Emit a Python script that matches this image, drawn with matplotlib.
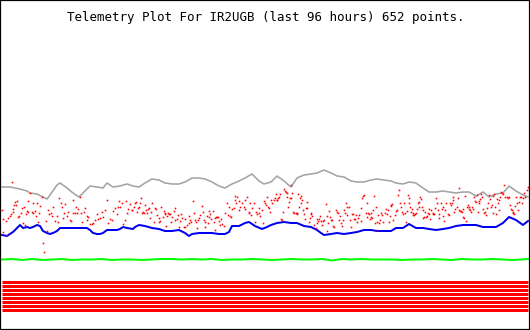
import matplotlib
matplotlib.use("Agg")
import matplotlib.pyplot as plt

TITLE = "Telemetry Plot For IR2UGB (last 96 hours) 652 points."

# time position (x) and value (y) for each series
gray_x = [2, 10, 20, 27, 30, 37, 43, 47, 50, 57, 60, 67, 73, 79, 83, 90, 97, 103, 107, 113,
          120, 127, 133, 139, 145, 152, 159, 165, 172, 179, 185, 192, 199, 205, 212, 219, 225,
          232, 239, 245, 252, 259, 264, 271, 277, 284, 291, 297, 304, 311, 317, 324, 331, 337,
          344, 351, 357, 364, 371, 377, 384, 391, 396, 403, 409, 416, 423, 429, 436, 443, 449,
          456, 463, 469, 476, 483, 489, 496, 503, 509, 516, 523, 528]
gray_y = [143, 143, 141, 139, 137, 136, 133, 131, 135, 145, 147, 142, 137, 133, 137, 144, 143,
          142, 147, 143, 144, 146, 144, 143, 147, 151, 150, 147, 146, 146, 148, 152, 152, 151,
          148, 144, 142, 146, 149, 152, 156, 149, 146, 148, 154, 149, 143, 152, 155, 156, 157,
          160, 157, 154, 153, 149, 148, 148, 150, 151, 150, 149, 147, 146, 148, 147, 142, 138,
          138, 139, 138, 137, 138, 138, 134, 138, 133, 136, 137, 144, 139, 135, 133]

blue_x = [2, 7, 10, 13, 17, 20, 23, 27, 30, 33, 37, 40, 43, 47, 50, 53, 57, 60, 67, 73, 80,
          87, 90, 93, 97, 100, 103, 107, 117, 120, 123, 127, 133, 135, 139, 145, 152, 159, 165,
          172, 179, 185, 189, 192, 199, 205, 212, 219, 225, 229, 232, 239, 245, 249, 255, 262,
          267, 271, 277, 284, 291, 297, 304, 311, 317, 321, 324, 331, 337, 344, 351, 357, 364,
          371, 377, 384, 391, 396, 403, 409, 416, 423, 429, 436, 443, 449, 456, 463, 469, 476,
          483, 489, 496, 503, 509, 516, 523, 528]
blue_y = [95, 94, 96, 98, 102, 105, 102, 103, 102, 103, 105, 104, 99, 97, 96, 97, 99, 102, 102,
          102, 102, 102, 100, 97, 96, 96, 97, 100, 100, 101, 103, 102, 101, 103, 105, 104, 102,
          101, 99, 99, 100, 97, 94, 96, 97, 97, 97, 96, 96, 98, 104, 104, 107, 108, 104, 101,
          103, 105, 107, 108, 107, 107, 104, 103, 100, 97, 95, 96, 97, 96, 97, 98, 100, 100, 99,
          99, 99, 102, 102, 106, 102, 102, 101, 100, 101, 102, 104, 105, 105, 105, 103, 103,
          103, 107, 113, 110, 105, 109]

green_x = [2, 12, 22, 32, 42, 52, 62, 72, 82, 92, 102, 112, 122, 132, 142, 152, 162, 172, 182,
           192, 202, 212, 222, 232, 242, 252, 262, 272, 282, 292, 302, 312, 322, 332, 342, 352,
           362, 372, 382, 392, 402, 412, 422, 432, 442, 452, 462, 472, 482, 492, 502, 512, 522,
           528]
green_y = [70.5, 71, 70, 71, 70, 70.5, 71, 70, 70.5, 70.5, 71, 70, 70.5, 70.5, 70, 70.5, 71,
           71, 70.5, 71, 70.5, 71, 70, 70.5, 70.5, 71, 70.5, 70, 70.5, 71, 70.5, 70.5, 71, 69.5,
           71, 70.5, 71, 70.5, 70.5, 70.5, 70, 70.5, 70.5, 71, 70.5, 70, 71, 70.5, 70.5, 71, 70.5,
           70, 70.5, 71]

# scattered red readings as (x, y) pairs
red_pts = [
    (1.7, 120), (2.7, 110.7), (3.3, 98.3), (6, 109.3), (7.3, 95), (8.3, 111.7), (10, 114.3),
    (11, 116), (11.7, 148.3), (12.7, 118.3), (13.3, 120.7), (14, 125), (15, 128.3), (16, 125),
    (16.7, 129.3), (18.3, 112.7), (19.3, 114), (20.7, 116.7), (21.7, 121.7), (22.7, 107.3),
    (24, 123.3), (25, 105), (26, 116), (26.7, 119.3), (27.7, 118.3), (28.3, 129.3), (30, 136.7),
    (31.7, 118.3), (32.7, 116.7), (33.3, 126.7), (35, 119.3), (36, 114), (36.7, 127.3),
    (38.3, 108.3), (39.3, 116.7), (40, 124), (41.7, 133.3), (43.3, 86.7), (44.3, 78.3),
    (46, 109.3), (46.7, 99.3), (48.3, 120), (49.3, 116), (50.7, 117.3), (51.7, 114),
    (53.3, 122.7), (55, 109.3), (56.7, 114), (58.3, 108.3), (59.3, 131.7), (60.7, 126.7),
    (61.7, 123.3), (62.7, 111.7), (64, 116.7), (65, 126), (66.7, 114), (68.3, 118.3), (70, 110),
    (71, 109.3), (72.7, 130), (73.3, 117.3), (75, 116.7), (76, 122.7), (76.7, 116.7),
    (78.3, 120.7), (80, 132.7), (81, 117.3), (81.7, 108.3), (84, 118.3), (85, 121.7),
    (86.7, 114), (87.3, 110), (88.3, 112.7), (90, 106), (91.7, 106), (93.3, 107.3), (95, 110),
    (96.7, 116), (98.3, 110.7), (100, 111.7), (101.7, 118.3), (103.3, 113.3), (105, 120),
    (106.7, 130), (108.3, 106.7), (110, 110.7), (111.7, 110), (113.3, 119.3), (115, 121.7),
    (116.7, 116), (118.3, 123.3), (119.3, 129.3), (120, 122.7), (121.7, 126.7), (123.3, 106),
    (125, 110), (126, 129.3), (127.3, 117.3), (128.3, 120.7), (130, 126), (131.7, 120),
    (132, 120), (133.7, 123.3), (135.3, 127.3), (136, 128.3), (137, 118.3), (138, 121.7),
    (139.3, 123.3), (140.3, 126.7), (141.3, 131.7), (142, 116.7), (142.7, 118.3),
    (143.7, 116.7), (144.7, 125), (146, 120), (147, 116.7), (148, 120.7), (148.7, 121.7),
    (150.3, 111.7), (151.3, 118.3), (152, 127.3), (153.7, 108.3), (154.7, 121.7),
    (156, 120.7), (157, 115), (158.7, 108.3), (159.3, 111.7), (160.3, 109.3), (161.3, 122.7),
    (162.7, 112.7), (163.7, 119.3), (164.7, 116), (165.3, 116.7), (166, 104), (167, 114),
    (168, 117.3), (169.3, 116), (170.3, 116), (171.3, 108.3), (172, 112.7), (173.7, 119.3),
    (174.7, 121.7), (175.3, 110), (177, 110.7), (178, 115), (179.3, 103.3), (180.3, 109.3),
    (181.3, 116), (182, 111.7), (183.7, 103.3), (184.7, 103.3), (185.3, 110.7), (187, 105),
    (188.7, 114), (189.3, 106.7), (190.3, 110), (191.3, 108.3), (192.7, 129.3), (193.7, 117.3),
    (194.7, 110), (196, 108.3), (197, 101.7), (198, 110), (198.7, 111.7), (200.3, 115),
    (202, 124), (202.7, 118.3), (203.7, 110), (204.7, 103.3), (205.3, 108.3), (207, 114),
    (208, 106.7), (208.7, 112.7), (209.3, 119.3), (210.3, 116), (211.3, 110.7), (212.7, 119.3),
    (213.7, 108.3), (214.7, 100), (215.3, 111.7), (216, 112.7), (217, 113.3), (218, 112.7),
    (218.7, 109.3), (220.3, 105), (221.3, 110.7), (222, 106), (223.7, 104), (225.3, 116.7),
    (227, 126.7), (228, 115), (229.3, 123.3), (230.3, 114), (231.3, 112.7), (232, 120.7),
    (233.7, 121.7), (234.7, 134), (235.3, 130), (236, 126.7), (237, 133.3), (238.7, 129.3),
    (239.3, 120), (240.3, 123.3), (242, 127.3), (243.7, 123.3), (244.7, 120.7), (245.3, 130),
    (247, 132.7), (248.7, 118.3), (249.3, 116.7), (250.3, 126.7), (251.3, 115), (252, 121.7),
    (253.7, 127.3), (255.3, 108.3), (256, 118.3), (257, 116), (258.7, 121.7), (259.3, 117.3),
    (260.3, 114), (262, 120), (262.7, 106.7), (263.7, 129.3),
    (264.7, 127.3), (265.7, 125), (266.7, 132.7), (268, 123.3), (269, 121.7), (270, 118.3),
    (271.3, 130), (272.3, 127.3), (274, 130), (274.7, 131.7), (275.7, 136), (276.7, 130),
    (277.3, 130), (278, 131.7), (279, 132.7), (280, 136), (281.3, 110.7), (282.3, 110),
    (283.3, 118.3), (284, 140.7), (284.7, 139.3), (285.7, 138.3), (286.7, 137.3),
    (287.3, 132.7), (288, 123.3), (289, 128.3), (290, 131.7), (290.7, 145), (291.3, 131.7),
    (292.3, 137.3), (293.3, 118.3), (294, 116.7), (295.7, 117.3), (296.7, 116), (297.3, 116.7),
    (298, 135.7), (299, 123.3), (300, 131.7), (300.7, 134), (301.3, 126.7), (302.3, 130),
    (303.3, 120), (304, 116), (304.7, 110.7), (305.7, 121.7), (306.7, 121.7), (307.3, 128.3),
    (309, 108.3), (310, 111.7), (310.7, 116), (311.3, 117.3), (312.3, 114), (314, 105),
    (315.7, 101.7), (316.7, 110.7), (317.3, 106.7), (318, 109.3), (319, 110.7), (320, 114),
    (320.7, 109.3), (322.3, 105), (323.3, 109.3), (324, 110), (325.7, 126), (326.7, 114),
    (327.3, 99.3), (328, 107.3), (329, 119.3), (330, 112.7), (330.7, 110), (332.3, 110),
    (333.3, 104), (334, 102.7), (335.7, 120), (336.7, 118.3), (338, 116.7), (339, 110),
    (340, 114), (341.3, 106.7), (342.3, 104), (343.3, 110), (344, 120), (344.7, 117.3),
    (345.7, 126.7), (346.7, 123.3), (347.3, 115), (349, 123.3), (350, 110), (351.3, 102.7),
    (352.3, 116), (353.3, 116), (354, 110.7), (354.7, 110.7), (355.7, 115), (356.7, 108.3),
    (358, 111.7), (359, 115), (360.7, 109.3), (361.3, 121.7), (362.3, 131.7), (363.3, 134),
    (364, 135), (365.7, 116.7), (366.7, 112.7), (367.3, 126.7), (368, 116.7), (369, 116),
    (370, 110.7), (370.7, 116.7), (371.3, 112.7), (372.3, 111.7), (373.3, 120), (374, 134),
    (374.7, 107.3), (375.7, 122.7), (376.7, 108.3), (377.3, 100), (378, 115), (379, 106.7),
    (380, 110), (381.3, 116.7), (382.3, 115), (383.3, 108.3), (384.7, 116.7), (385.7, 120.7),
    (386.7, 116), (388, 120), (389, 108.3), (390, 114), (390.7, 124), (391.3, 125),
    (392.3, 126), (393.3, 110), (394.7, 115), (395.7, 119.3),
    (397, 120), (397.7, 135), (398.7, 140), (400, 127.3), (401, 122.7), (402, 118.3),
    (403.3, 116), (404.3, 127.3), (405.3, 116.7), (406, 108.3), (406.7, 119.3), (407.7, 135),
    (408.7, 131.7), (409.3, 127.3), (410, 123.3), (411, 118.3), (412, 120.7), (412.7, 115),
    (413.3, 116.7), (414.3, 115), (415.3, 116), (416, 117.3), (416.7, 120.7), (417.7, 126.7),
    (418.7, 123.3), (419.3, 128.3), (420, 132.7), (421, 130.7), (422, 122.7), (422.7, 120),
    (423.3, 111.7), (424.3, 113.3), (425.3, 118.3), (426, 113.3), (426.7, 114), (427.7, 116.7),
    (428.7, 120.7), (429.3, 116), (430, 110.7), (431, 120), (432.7, 117.3), (433.3, 116),
    (434.3, 116), (435.3, 121.7), (436, 131.7), (436.7, 127.3), (437.7, 120), (438.7, 116),
    (439.3, 111.7), (441, 127.3), (442, 120.7), (442.7, 122.7), (443.3, 114), (444.3, 109.3),
    (445.3, 120), (446, 127.3), (447.7, 116), (448.7, 115), (450, 127.3), (451, 125),
    (452, 126.7), (452.7, 133.3), (453.3, 130), (454.3, 118.3), (455.3, 120.7), (456.7, 123.3),
    (457.7, 131.7), (458.7, 141.7), (459.3, 120), (460, 119.3), (461, 119.3), (462, 118.3),
    (462.7, 120.7), (463.3, 113.3), (464.3, 111.7), (465.3, 134), (466, 109.3), (466.7, 123.3),
    (467.7, 125), (468.7, 120.7), (469.3, 122.7), (470, 120), (471, 118.3), (472, 122.7),
    (473.3, 120.7), (474.3, 132.7), (475.3, 129.3), (476, 128.3), (476.7, 135), (477.7, 118.3),
    (478.7, 126.7), (479.3, 129.3), (480, 130.7), (481, 136), (482, 133.3), (483.3, 120.7),
    (484.3, 116.7), (485.3, 118.3), (486, 115), (486.7, 121.7), (487.7, 127.3), (488.7, 135),
    (490, 130.7), (491, 122.7), (492, 125), (492.7, 116.7), (493.3, 134), (494.3, 136),
    (495.3, 123.3), (496, 116), (496.7, 130.7), (497.7, 126.7), (498.7, 120), (499.3, 130),
    (500, 132.7), (501, 138.3), (502, 136.7), (503.3, 136), (504.3, 145), (505.3, 133.3),
    (506.7, 132.7), (507.7, 131.7), (508.7, 132.7), (510, 125), (511, 120.7), (512, 120),
    (512.7, 117.3), (513.3, 118.3), (514.3, 116), (515.3, 124), (516, 132.7), (516.7, 127.3),
    (517.7, 120), (518.7, 128.3), (520, 133.3), (521, 132.7), (522, 127.3), (523.3, 131.7),
    (524.3, 136.7), (525.3, 132.7), (526.7, 140), (527.7, 143.3), (528.7, 141.7),
]
red_x = [p[0] for p in red_pts]
red_y = [p[1] for p in red_pts]

# status bits drawn as flat bands
bit_levels = [48.5, 44.5, 40.5, 36.5, 32.5, 28.5, 24.5, 20.5]
bit_start, bit_end = 2, 528

W, H = 530, 330
fig = plt.figure(figsize=(W / 100, H / 100), dpi=100)
ax = fig.add_axes([0, 0, 1, 1])
ax.set_xlim(0, W)
ax.set_ylim(0, H)
ax.set_xticks([])
ax.set_yticks([])
for s in ax.spines.values():
    s.set_color("black")
    s.set_linewidth(1.6)

px = 72 / 100  # points per pixel

for lv in bit_levels:
    ax.plot([bit_start, bit_end], [lv, lv], color="#ff0000", lw=3 * px,
            solid_capstyle="butt")

ax.plot(green_x, green_y, color="#00ff00", lw=2 * px)
ax.plot(gray_x, gray_y, color="#a4a4a4", lw=1.6 * px)
ax.plot(blue_x, blue_y, color="#0000f0", lw=2 * px)
ax.plot(red_x, red_y, ls="none", marker="s", ms=1.6 * px,
        mfc="#ff0000", mec="none", antialiased=False)

ax.text(266, 312, TITLE, ha="center", va="center", fontsize=9,
        family="DejaVu Sans Mono", color="black")

fig.savefig("out.png", dpi=100)
